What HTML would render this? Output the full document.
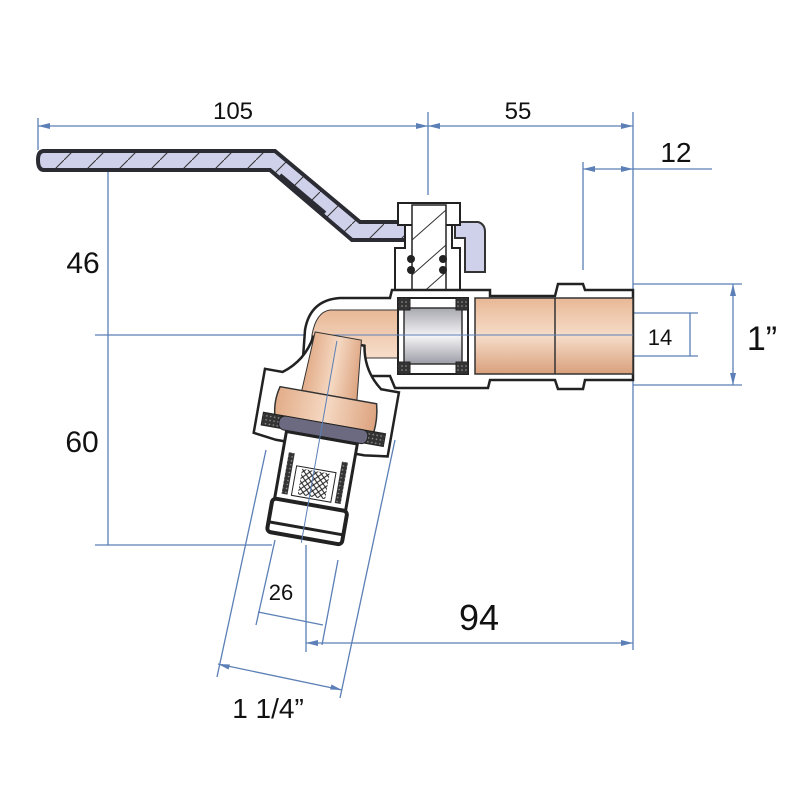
<!DOCTYPE html>
<html><head><meta charset="utf-8"><style>
html,body{margin:0;padding:0;background:#fff}
svg{display:block}
.t{font-family:"Liberation Sans",sans-serif;fill:#111}
</style></head><body>
<svg width="800" height="800" viewBox="0 0 800 800" xmlns="http://www.w3.org/2000/svg">
<defs>
<linearGradient id="cu" x1="0" y1="0" x2="0" y2="1">
<stop offset="0" stop-color="#e8b896"/><stop offset="0.5" stop-color="#f6dcc8"/><stop offset="1" stop-color="#d9a07c"/></linearGradient>
<linearGradient id="cuv" x1="0" y1="0" x2="1" y2="0">
<stop offset="0" stop-color="#e2ac88"/><stop offset="0.5" stop-color="#f5d8c2"/><stop offset="1" stop-color="#dca27e"/></linearGradient>
<linearGradient id="ball" x1="0" y1="0" x2="0" y2="1">
<stop offset="0" stop-color="#a8a8b0"/><stop offset="0.5" stop-color="#f4f4f6"/><stop offset="1" stop-color="#9c9ca6"/></linearGradient>
<pattern id="mesh" width="6" height="6" patternUnits="userSpaceOnUse">
<rect width="6" height="6" fill="#fff"/><path d="M0 0L6 6M6 0L0 6" stroke="#222" stroke-width="1"/></pattern>
<pattern id="dk" width="4" height="4" patternUnits="userSpaceOnUse">
<rect width="4" height="4" fill="#333"/><circle cx="2" cy="2" r="0.8" fill="#999"/></pattern>
<pattern id="hl" width="32" height="32" patternUnits="userSpaceOnUse">
<rect width="32" height="32" fill="#cfd0ea"/><path d="M0 32L32 0" stroke="#333" stroke-width="1"/></pattern>
</defs>
<g stroke="#5b7fb6" stroke-width="1.3" fill="none">
<line x1="38" y1="126" x2="633" y2="126"/>
<line x1="38" y1="118" x2="38" y2="150"/>
<line x1="428" y1="112" x2="428" y2="195"/>
<line x1="633" y1="112" x2="633" y2="650"/>
<line x1="583" y1="169" x2="712" y2="169"/>
<line x1="583" y1="162" x2="583" y2="270"/>
<line x1="108" y1="170" x2="108" y2="545"/>
<line x1="95" y1="335" x2="330" y2="335"/>
<line x1="95" y1="545" x2="272" y2="545"/>
<line x1="633" y1="284" x2="742" y2="284"/>
<line x1="633" y1="385" x2="742" y2="385"/>
<line x1="733" y1="284" x2="733" y2="385"/>
<line x1="633" y1="313" x2="698" y2="313"/>
<line x1="633" y1="356" x2="698" y2="356"/>
<line x1="690" y1="313" x2="690" y2="356"/>
<line x1="306" y1="545" x2="306" y2="652"/>
<line x1="306" y1="643" x2="633" y2="643"/>
<line x1="217" y1="677" x2="266" y2="450"/>
<line x1="340" y1="698" x2="395" y2="440"/>
<line x1="218" y1="664" x2="342" y2="690"/>
<line x1="256" y1="625" x2="275" y2="540"/>
<line x1="322" y1="645" x2="338" y2="560"/>
<line x1="258" y1="612" x2="323" y2="625"/>
</g>
<g fill="#5b7fb6">
<path d="M38 126l12-3v6z"/><path d="M428 126l-12-3v6z"/><path d="M428 126l12-3v6z"/><path d="M633 126l-12-3v6z"/>
<path d="M583 169l12-3v6z"/><path d="M633 169l-12-3v6z"/>
<path d="M733 284l-3 12h6z"/><path d="M733 385l-3-12h6z"/>
<path d="M306 643l12-3v6z"/><path d="M633 643l-12-3v6z"/>
<path d="M218 664l12 0.5-1.5 5z"/><path d="M342 690l-12-0.5 1.5-5z"/>
</g>
<!-- handle -->
<path d="M44 151 L275 151 L360 222 L410 222 L410 240 L352 240 L270 170 L44 170 Q38 170 38 160 Q38 151 44 151Z" fill="url(#hl)" stroke="#2b2b33" stroke-width="4"/>
<path d="M280 175 L325 213" stroke="#2b2b33" stroke-width="4"/>
<path d="M455 222 L478 222 Q485 224 485 232 L485 272 L465 272 L465 238 L455 238Z" fill="#cfd0ea" stroke="#333" stroke-width="2"/>
<!-- stem/bonnet -->
<rect x="398" y="203" width="62" height="22" fill="#fff" stroke="#222" stroke-width="2"/>
<path d="M395 248 L405 248 L405 225 L452 225 L452 248 L460 248 L460 292 L395 292Z" fill="#fff" stroke="#222" stroke-width="2"/>
<rect x="412" y="205" width="34" height="90" fill="#fff" stroke="#222" stroke-width="1.5"/>
<path d="M412 240L446 210M412 275L446 245M420 295L446 272" stroke="#333" stroke-width="1"/>
<g fill="#222"><circle cx="411" cy="259" r="4"/><circle cx="411" cy="270" r="4"/><circle cx="443" cy="259" r="4"/><circle cx="443" cy="270" r="4"/></g>
<!-- main body outline -->
<path d="M300 400 L305 330 Q310 300 340 298 L390 298 L392 290 L490 290 L490 296 L555 296 L558 284 L583 284 L585 290 L633 290 L633 380 L585 380 L583 389 L558 389 L555 380 L490 380 L488 388 L395 388 L390 376 L372 376 Q365 380 366 395 L368 420 Z" fill="#fff" stroke="#222" stroke-width="2.5"/>
<rect x="475" y="298" width="158" height="76" fill="url(#cu)" stroke="#333" stroke-width="1.5"/>
<line x1="555" y1="298" x2="555" y2="374" stroke="#333" stroke-width="1.5"/>
<path d="M330 310 L400 310 L400 358 L365 358 L358 400 L305 400 L312 335 Q316 312 330 310Z" fill="url(#cu)" stroke="#333" stroke-width="1"/>
<rect x="398" y="298" width="70" height="76" fill="#fff" stroke="#222" stroke-width="2"/>
<rect x="404" y="308" width="58" height="56" fill="url(#ball)" stroke="#333" stroke-width="1.5"/>
<g fill="url(#dk)" stroke="#222"><rect x="398" y="298" width="12" height="12"/><rect x="456" y="298" width="12" height="12"/><rect x="398" y="362" width="12" height="12"/><rect x="456" y="362" width="12" height="12"/></g>
<line x1="330" y1="335" x2="633" y2="335" stroke="#5b7fb6" stroke-width="1"/>
<g transform="translate(325,420) rotate(10)">
<path d="M-68 -40 L-50 -40 Q-30 -55 -26 -80 L26 -80 Q30 -55 50 -40 L68 -40 L68 25 L45 28 L-45 28 L-68 25Z" fill="#fff" stroke="#222" stroke-width="2.5"/>
<path d="M-25 -85 L22 -85 L28 -25 L-28 -25Z" fill="url(#cuv)" stroke="#333" stroke-width="1"/>
<path d="M-50 -25 L48 -25 Q52 -10 50 5 L-50 5 Q-54 -10 -50 -25Z" fill="url(#cuv)" stroke="#333" stroke-width="1.5"/>
<rect x="-62" y="3" width="124" height="13" fill="url(#dk)" stroke="#222"/>
<rect x="-45" y="3" width="90" height="14" rx="6" fill="#6b6a80" stroke="#222"/>
<rect x="-36" y="18" width="72" height="68" fill="#fff" stroke="#222" stroke-width="3"/>
<rect x="-30" y="38" width="6" height="42" fill="url(#dk)"/><rect x="24" y="38" width="6" height="42" fill="url(#dk)"/>
<rect x="-20" y="50" width="40" height="30" fill="#fff" stroke="#222"/>
<rect x="-14" y="52" width="28" height="26" fill="url(#mesh)"/>
<rect x="-38" y="86" width="76" height="34" rx="4" fill="#fff" stroke="#222" stroke-width="4"/>
<line x1="-38" y1="110" x2="38" y2="110" stroke="#222" stroke-width="3"/>
<line x1="-2" y1="-80" x2="-2" y2="125" stroke="#5b7fb6" stroke-width="1"/>
</g>
<text class="t" x="233" y="119" font-size="24" text-anchor="middle">105</text>
<text class="t" x="518" y="119" font-size="24" text-anchor="middle">55</text>
<text class="t" x="676" y="162" font-size="28" text-anchor="middle">12</text>
<text class="t" x="83" y="273" font-size="30" text-anchor="middle">46</text>
<text class="t" x="82" y="452" font-size="30" text-anchor="middle">60</text>
<text class="t" x="660" y="345" font-size="22" text-anchor="middle">14</text>
<text class="t" x="762" y="350" font-size="34" text-anchor="middle">1”</text>
<text class="t" x="281" y="600" font-size="22" text-anchor="middle">26</text>
<text class="t" x="479" y="630" font-size="36" text-anchor="middle">94</text>
<text class="t" x="268" y="718" font-size="28" text-anchor="middle">1 1/4”</text>
</svg>
</body></html>
